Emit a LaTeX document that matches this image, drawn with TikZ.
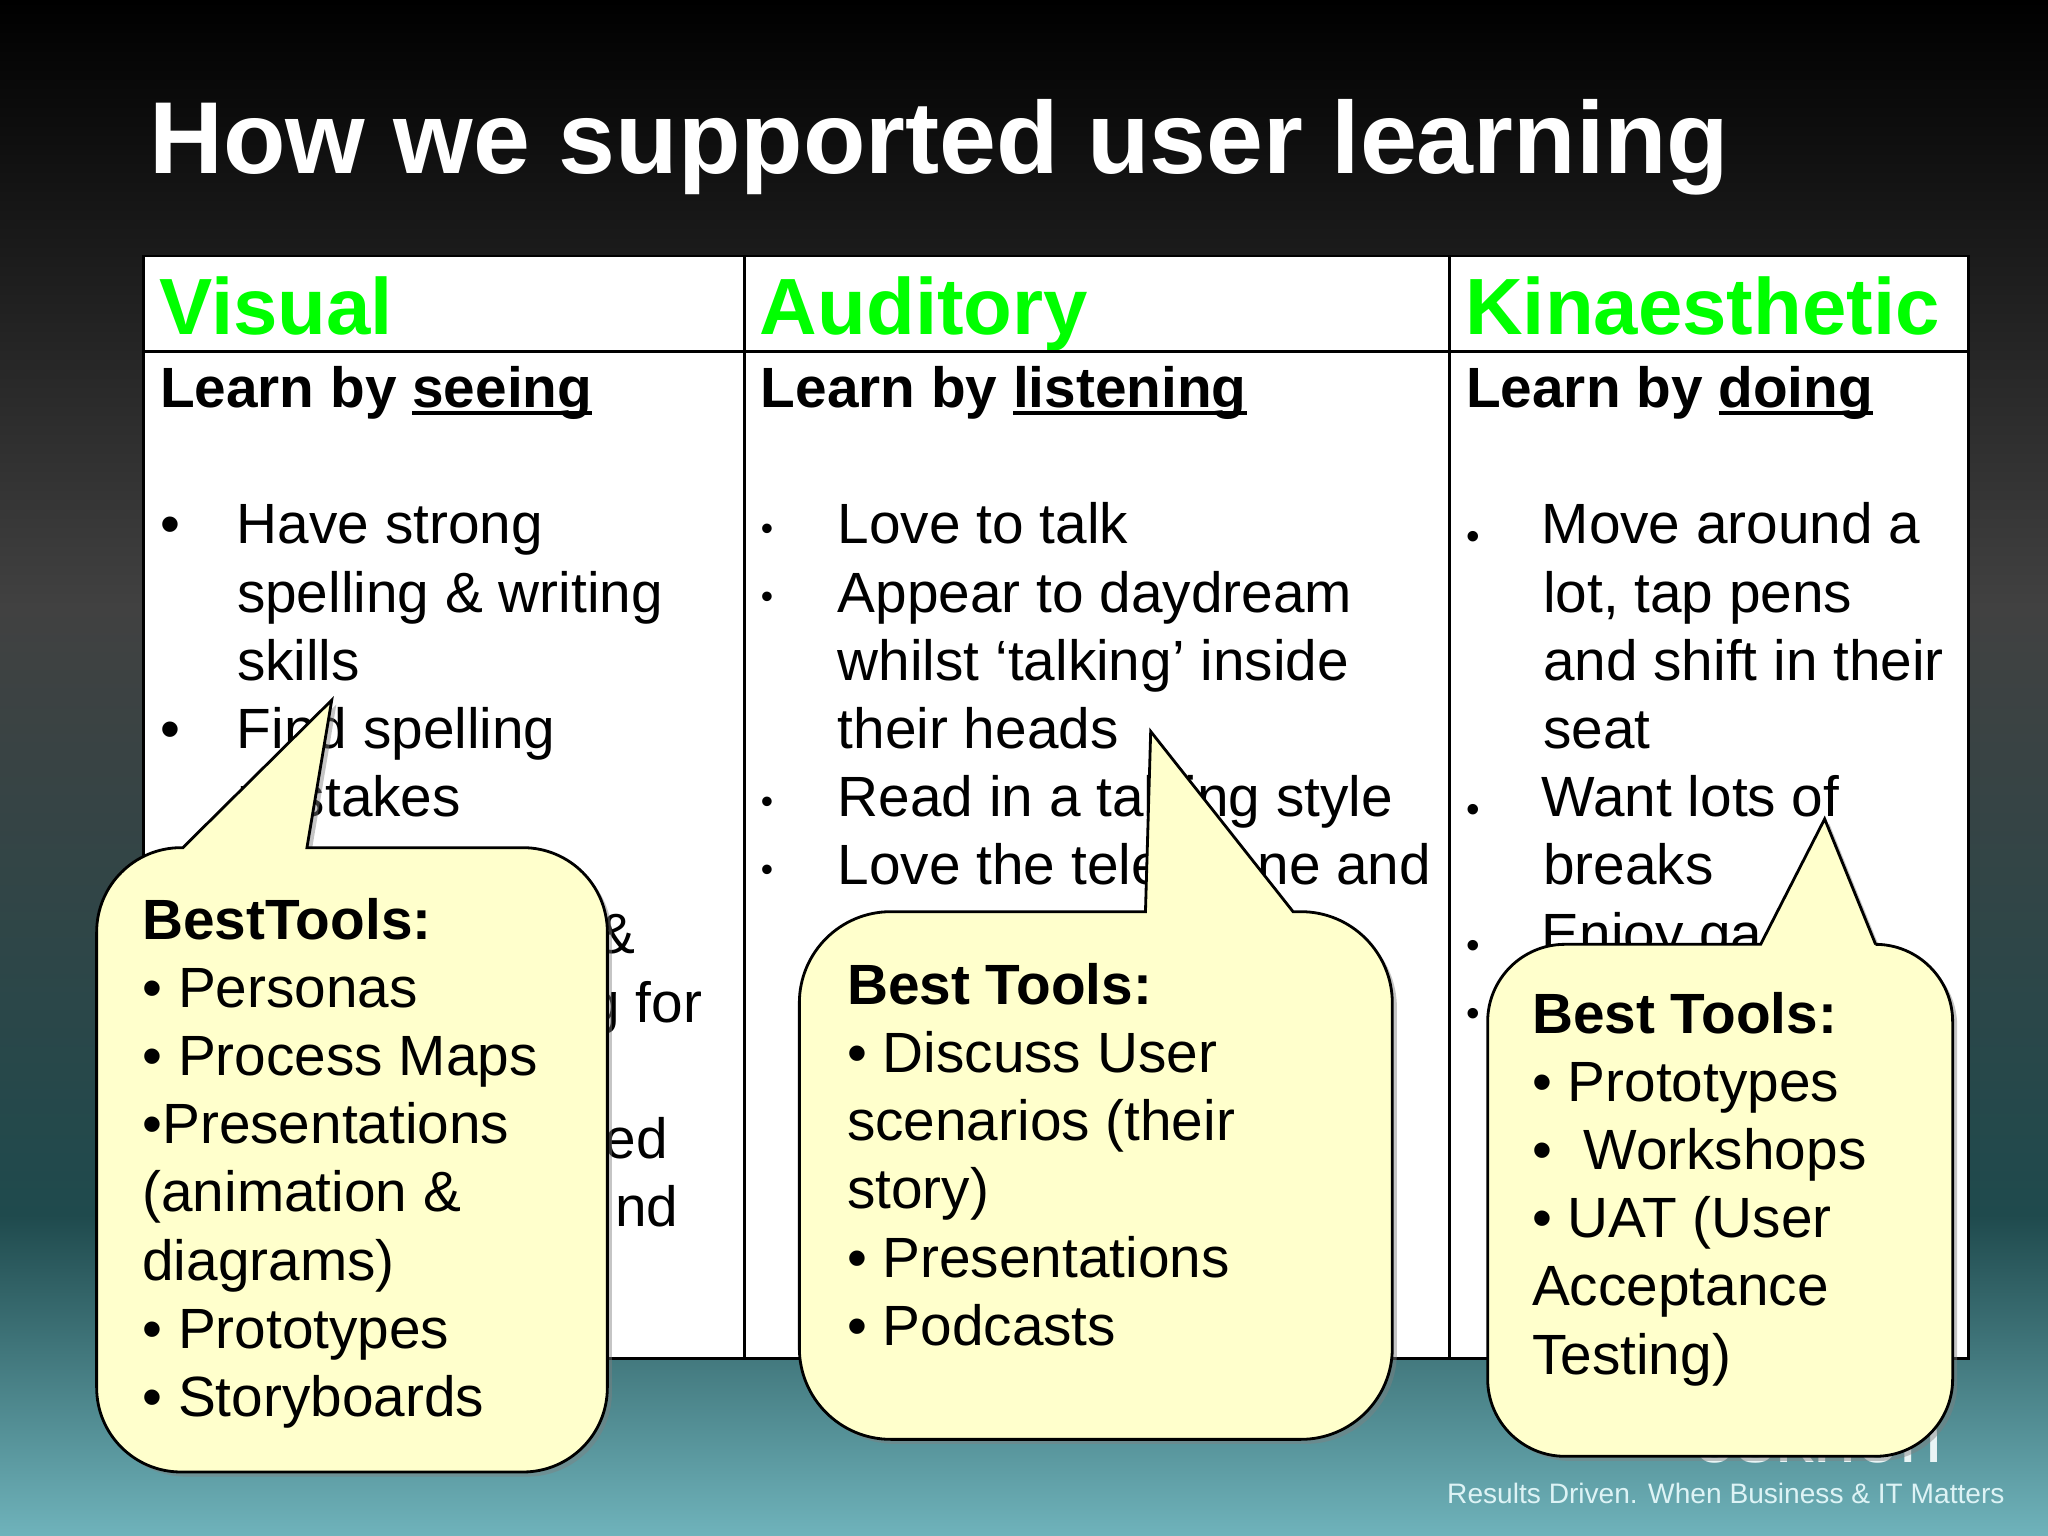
\documentclass[tikz,border=0pt]{standalone}
\usepackage{fontspec}
\setmainfont{Liberation Sans}
\usepackage{tikz}
\usetikzlibrary{positioning}
\usetikzlibrary{shadows}

\definecolor{bgdark}{HTML}{414141}
\definecolor{bgdeep}{HTML}{1F4A4D}
\definecolor{bglight}{HTML}{6FB3BB}
\definecolor{note}{HTML}{FFFFCC}
\definecolor{foot}{HTML}{DDF3F5}

\newcommand{\bigbul}{\makebox[21.9pt][l]{•}}
\newcommand{\smallbul}{\makebox[21.9pt][l]{\raisebox{1pt}{\fontsize{10}{10}\selectfont •}}}
\newcommand{\lowbul}{\makebox[21.5pt][l]{\raisebox{-1.6pt}{\fontsize{11}{11}\selectfont •}}}
\newcommand{\hang}{\hspace*{21.9pt}}
\newcommand{\ulword}[1]{\setbox0\hbox{#1}\rlap{\rule[-2.1pt]{\wd0}{1pt}}#1}

\begin{document}
\begin{tikzpicture}[x = 0.0130612cm, y = -0.0130612cm,
                    cell/.style  = {rectangle,
                                    draw,
                                    black,
                                    line width = 0.8pt,
                                    fill = white,
                                    outer sep = 0pt,
                                    inner sep = 0pt},
                    head/.style  = {cell,
                                    text = green,
                                    align = left,
                                    font = \fontsize{22.7}{27}\selectfont\bfseries,
                                    minimum height = 27.1pt,
                                    text height = 17.6pt,
                                    text depth = 0pt},
                    body/.style  = {cell,
                                    minimum height = 286.5pt},
                    lines/.style = {inner sep = 0pt,
                                    anchor = north west,
                                    align = left,
                                    text = black,
                                    font = \fontsize{16.15}{19.4}\selectfont},
                    bubble/.style = {draw,
                                     black,
                                     line width = 0.8pt,
                                     fill = note,
                                     drop shadow = {shadow xshift = 1.3pt,
                                                    shadow yshift = -1.3pt,
                                                    opacity = 0.45}}]

\useasboundingbox (0,0) rectangle (1568,1176);

% background
\fill[top color = black, bottom color = bgdark] (0,0) rectangle (1568,465);
\fill[top color = bgdark, bottom color = bgdeep] (0,465) rectangle (1568,930);
\fill[top color = bgdeep, bottom color = bglight] (0,930) rectangle (1568,1176);

\node (title) [anchor = base west, inner sep = 0pt, text = white,
               font = \fontsize{29.1}{34}\selectfont\bfseries] at (114,132.5)
      {How we supported user learning};

\node (logo) [anchor = base east, inner sep = 0pt, text = white!85!bglight,
              font = \fontsize{22}{27}\selectfont] at (1488,1119.5) {osknon};
\node (foot) [anchor = base west, inner sep = 0pt, text = foot,
              font = \fontsize{8}{10}\selectfont] at (1107.5,1151)
      {Results Driven. When Business \& IT Matters};

% table
\node[head, minimum width = 170.9pt, text width = 162pt, inner xsep = 4.45pt]
      (visual) [anchor = north west] at (110,196) {Visual};
\node[head, minimum width = 200.7pt, text width = 191.8pt, inner xsep = 4.45pt]
      (auditory) [right = 0pt of visual] {Auditory};
\node[head, minimum width = 147.5pt, text width = 138.6pt, inner xsep = 4.45pt]
      (kinaesthetic) [right = 0pt of auditory] {Kinaesthetic};

\node[body, minimum width = 170.9pt] (vbody) [below = 0pt of visual] {};
\node[body, minimum width = 200.7pt] (abody) [below = 0pt of auditory] {};
\node[body, minimum width = 147.5pt] (kbody) [below = 0pt of kinaesthetic] {};

\node[lines] (vtext) at (122,280) {%
  \textbf{Learn by \ulword{seeing}}\\
  ~\\
  \bigbul Have strong\\
  \hang spelling \& writing\\
  \hang skills\\
  \bigbul Find spelling\\
  \hang mistakes};
\node[lines, anchor = base east] (vamp) at (487,730) {\&};
\node[lines, anchor = base east] (vfor) at (538,782.5) {g for};
\node[lines, anchor = base east] (ved) at (512,887) {ed};
\node[lines, anchor = base east] (vnd) at (520,939) {nd};

\node[lines] (atext) at (582,280) {%
  \textbf{Learn by \ulword{listening}}\\
  ~\\
  \smallbul Love to talk\\
  \smallbul Appear to daydream\\
  \hang whilst ‘talking’ inside\\
  \hang their heads\\
  \smallbul Read in a talking style\\
  \smallbul Love the telephone and};

\node[lines] (ktext) at (1122,280) {%
  \textbf{Learn by \ulword{doing}}\\
  ~\\
  \lowbul Move around a\\
  \hang lot, tap pens\\
  \hang and shift in their\\
  \hang seat\\
  \lowbul Want lots of\\
  \hang breaks\\
  \lowbul Enjoy ga\\
  \lowbul};

% callouts
\draw[bubble] (270,1127) [rounded corners = 24pt] -- (74,1127) -- (74,649)
      [sharp corners] -- (140,649) -- (254,536) -- (235,649)
      [rounded corners = 24pt] -- (465,649) -- (465,1127) -- cycle;
\draw[bubble] (840,1102) [rounded corners = 26pt] -- (612,1102) -- (612,698)
      [sharp corners] -- (877,698) -- (881,560) -- (990,698)
      [rounded corners = 26pt] -- (1066,698) -- (1066,1102) -- cycle;
\draw[bubble] (1320,1115) [rounded corners = 22pt] -- (1139,1115) -- (1139,723)
      [sharp corners] -- (1348,723) -- (1397,627) -- (1436,723)
      [rounded corners = 22pt] -- (1495,723) -- (1495,1115) -- cycle;

\node[lines] (vtools) at (108.5,687) {%
  \textbf{BestTools:}\\
  • Personas\\
  • Process Maps\\
  •Presentations\\
  (animation \&\\
  diagrams)\\
  • Prototypes\\
  • Storyboards};
\node[lines] (atools) at (648,737) {%
  \textbf{Best Tools:}\\
  • Discuss User\\
  scenarios (their\\
  story)\\
  • Presentations\\
  • Podcasts};
\node[lines] (ktools) at (1172.5,759) {%
  \textbf{Best Tools:}\\
  • Prototypes\\
  •~ Workshops\\
  • UAT (User\\
  Acceptance\\
  Testing)};

\end{tikzpicture}
\end{document}
